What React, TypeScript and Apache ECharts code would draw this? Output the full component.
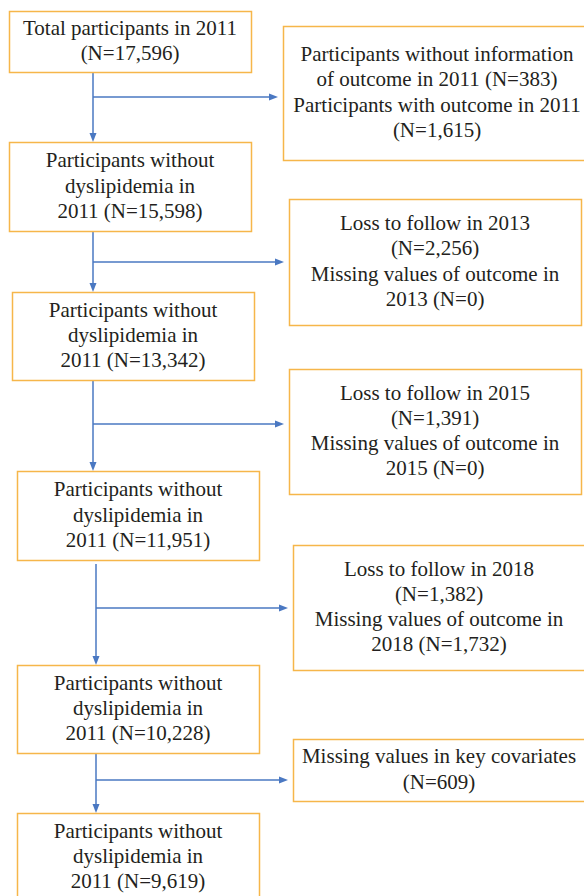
import React, { useEffect, useRef } from "react";
import * as echarts from "echarts";

// ---- Content (texts) ----
const mainBoxTexts: string[][] = [
  ["Total participants in 2011", "(N=17,596)"],
  ["Participants without", "dyslipidemia in", "2011 (N=15,598)"],
  ["Participants without", "dyslipidemia in", "2011 (N=13,342)"],
  ["Participants without", "dyslipidemia in", "2011 (N=11,951)"],
  ["Participants without", "dyslipidemia in", "2011 (N=10,228)"],
  ["Participants without", "dyslipidemia in", "2011 (N=9,619)"],
];

const sideBoxTexts: string[][] = [
  [
    "Participants without information",
    "of outcome in 2011 (N=383)",
    "Participants with outcome in 2011",
    "(N=1,615)",
  ],
  ["Loss to follow in 2013", "(N=2,256)", "Missing values of outcome in", "2013 (N=0)"],
  ["Loss to follow in 2015", "(N=1,391)", "Missing values of outcome in", "2015 (N=0)"],
  ["Loss to follow in 2018", "(N=1,382)", "Missing values of outcome in", "2018 (N=1,732)"],
  ["Missing values in key covariates", "(N=609)"],
];

// ---- Layout (positions) ----
// [x0, y0, x1, y1]
const mainBoxRects: number[][] = [
  [9, 11, 251, 72],
  [9, 142, 251, 231],
  [12, 292, 254, 380],
  [17, 471, 259, 560],
  [17, 665, 259, 753],
  [17, 813, 259, 901],
];
const sideBoxRects: number[][] = [
  [283, 26, 591, 160],
  [289, 199, 581, 325],
  [289, 369, 581, 494],
  [293, 545, 585, 670],
  [293, 739, 585, 801],
];
// connector: [x, yStart, branchY]
const connectors: number[][] = [
  [93, 72, 97],
  [93, 231, 262],
  [93, 380, 424],
  [96, 564, 608],
  [96, 753, 780],
];

const BORDER = "#F6B64A";
const BLUE = "#4A78C2";
const TEXT = "#231F20";
const LINE_H = 25.3;
const FONT_SIZE = 21;
const FONT_FAMILY = "Liberation Serif";

let measureCtx: CanvasRenderingContext2D | null = null;
function textWidth(t: string): number {
  if (!measureCtx) {
    measureCtx = document.createElement("canvas").getContext("2d");
  }
  if (!measureCtx) return t.length * FONT_SIZE * 0.42;
  measureCtx.font = FONT_SIZE + "px " + FONT_FAMILY;
  return measureCtx.measureText(t).width;
}

function boxElements(rect: number[], lines: string[]): any[] {
  const [x0, y0, x1, y1] = rect;
  const els: any[] = [
    {
      type: "rect",
      shape: { x: x0 + 0.5, y: y0 + 0.5, width: x1 - x0, height: y1 - y0 },
      style: { fill: "#fff", stroke: BORDER, lineWidth: 1.5 },
    },
  ];
  const cx = (x0 + x1) / 2;
  const cy = (y0 + y1) / 2 - 1;
  const n = lines.length;
  lines.forEach((t, i) => {
    const lineCenter = cy + (i - (n - 1) / 2) * LINE_H;
    els.push({
      type: "text",
      x: cx - textWidth(t) / 2,
      y: lineCenter - FONT_SIZE / 2,
      style: {
        text: t,
        fill: TEXT,
        fontSize: FONT_SIZE,
        fontFamily: FONT_FAMILY,
      },
    });
  });
  return els;
}

function arrowElements(conn: number[], nextTop: number, sideLeft: number): any[] {
  const [x, ys, by] = conn;
  const AL = 9;
  const AW = 3.5;
  const lineStyle = { stroke: BLUE, lineWidth: 1.5 };
  return [
    { type: "line", shape: { x1: x, y1: ys, x2: x, y2: nextTop - AL + 1 }, style: lineStyle },
    {
      type: "polygon",
      shape: { points: [[x - AW, nextTop - AL], [x + AW, nextTop - AL], [x, nextTop]] },
      style: { fill: BLUE },
    },
    { type: "line", shape: { x1: x, y1: by, x2: sideLeft - 5 - AL + 1, y2: by }, style: lineStyle },
    {
      type: "polygon",
      shape: {
        points: [
          [sideLeft - 5 - AL, by - AW],
          [sideLeft - 5 - AL, by + AW],
          [sideLeft - 5, by],
        ],
      },
      style: { fill: BLUE },
    },
  ];
}

export default function App() {
  const ref = useRef<HTMLDivElement>(null);
  useEffect(() => {
    if (!ref.current) return;
    const chart = echarts.init(ref.current, undefined, { renderer: "svg" });
    const elements: any[] = [];
    connectors.forEach((c, i) => {
      elements.push(...arrowElements(c, mainBoxRects[i + 1][1], sideBoxRects[i][0]));
    });
    mainBoxRects.forEach((r, i) => elements.push(...boxElements(r, mainBoxTexts[i])));
    sideBoxRects.forEach((r, i) => elements.push(...boxElements(r, sideBoxTexts[i])));
    chart.setOption({
      animation: false,
      graphic: { elements },
    });
    return () => chart.dispose();
  }, []);
  return (
    <div
      ref={ref}
      style={{ position: "fixed", left: 0, top: 0, width: 584, height: 896, background: "#fff" }}
    />
  );
}
